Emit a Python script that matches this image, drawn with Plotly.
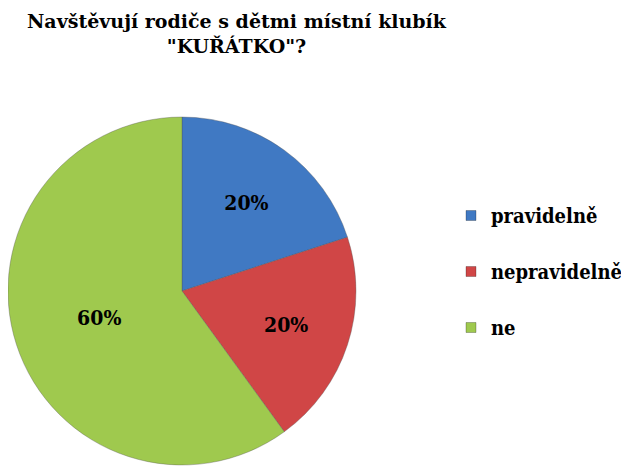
import plotly.graph_objects as go

# data
labels = ["pravidelně", "nepravidelně", "ne"]
values = [20, 20, 60]
colors = ["#4079C3", "#D04646", "#9FC94E"]
title_text = "<b>Navštěvují rodiče s dětmi místní klubík<br>\"KUŘÁTKO\"?</b>"

W, H = 629, 474
serif = "DejaVu Serif Condensed, DejaVu Serif"

fig = go.Figure()
fig.add_trace(go.Pie(
    labels=labels, values=values, sort=False, direction="clockwise", rotation=0,
    marker=dict(colors=colors, line=dict(color="rgba(80,80,80,0.35)", width=1)),
    texttemplate="<b>%{percent:.0%}</b>", textposition="inside", insidetextorientation="horizontal",
    textfont=dict(family=serif, size=21, color="black"),
    domain=dict(x=[0 / W, 348 / W], y=[1 - 457 / H, 1 - 109 / H]),
    showlegend=False,
))

# legend entries (square markers, spaced like the original)
for i, (lab, col) in enumerate(zip(labels, colors)):
    fig.add_trace(go.Scatter(
        x=[None], y=[None], mode="markers", name="<b>" + lab + "</b>", legendgroup=str(i),
        marker=dict(symbol="square", size=10, color=col, line=dict(color="rgba(0,0,0,0.25)", width=1)),
    ))

fig.add_annotation(
    text=title_text, xref="paper", yref="paper", x=229 / W, y=1, xanchor="center", yanchor="top",
    showarrow=False, font=dict(family="DejaVu Serif", size=19, color="black"),
)

fig.update_layout(
    width=W, height=H,
    margin=dict(l=0, r=0, t=0, b=0),
    paper_bgcolor="white", plot_bgcolor="white",
    xaxis=dict(visible=False), yaxis=dict(visible=False),
    legend=dict(x=443 / W, y=1 - 188 / H, xanchor="left", yanchor="top",
                font=dict(family=serif, size=20, color="black"),
                tracegroupgap=27, itemwidth=30),
)

fig.write_html("out.html")
